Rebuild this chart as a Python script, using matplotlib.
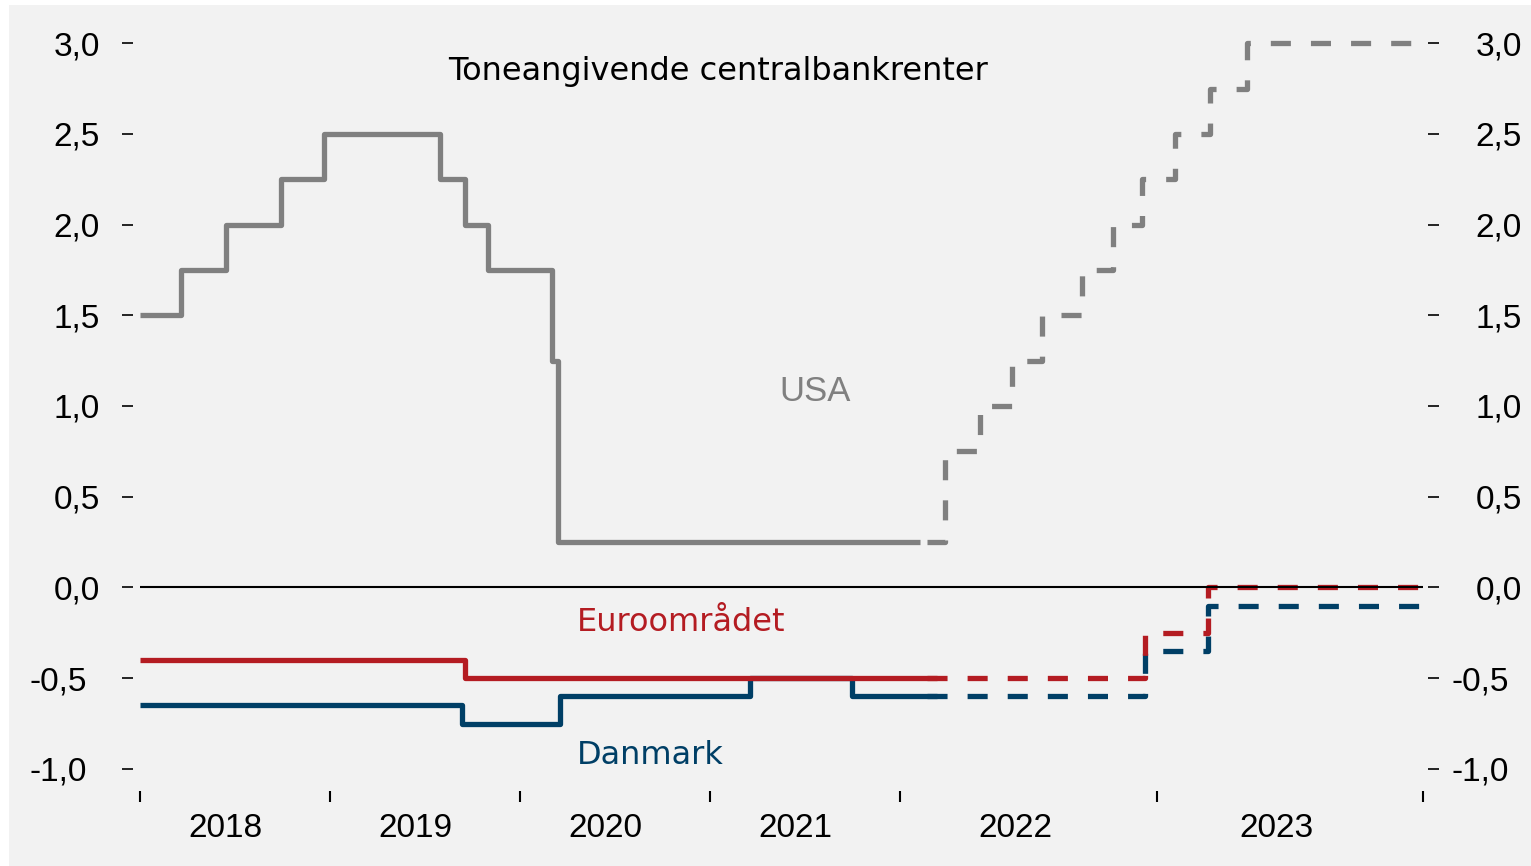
import numpy as np
import matplotlib
matplotlib.use("Agg")
import matplotlib.pyplot as plt
from matplotlib.patches import Rectangle
from matplotlib.transforms import Affine2D

# ---------------- data (decimal years / percent) ----------------
usa_hist_x = [2018.0, 2018.216, 2018.453, 2018.742, 2018.968, 2019.58, 2019.71,
              2019.83, 2020.169, 2020.20, 2022.078]
usa_hist_y = [1.50, 1.75, 2.00, 2.25, 2.50, 2.25, 2.00, 1.75, 1.25, 0.25, 0.25]

usa_fc_x = [2022.105, 2022.175, 2022.311, 2022.436, 2022.553, 2022.708, 2022.829,
            2022.942, 2023.068, 2023.199, 2023.338, 2024.0]
usa_fc_y = [0.25, 0.75, 1.00, 1.25, 1.50, 1.75, 2.00, 2.25, 2.50, 2.75, 3.00, 3.00]

euro_hist_x = [2018.0, 2019.71, 2022.144]
euro_hist_y = [-0.40, -0.50, -0.50]
euro_fc_x = [2022.105, 2022.953, 2023.19, 2024.0]
euro_fc_y = [-0.50, -0.25, 0.00, 0.00]

dk_hist_x = [2018.0, 2019.695, 2020.21, 2021.21, 2021.747, 2022.144]
dk_hist_y = [-0.65, -0.75, -0.60, -0.50, -0.60, -0.60]
dk_fc_x = [2022.105, 2022.953, 2023.19, 2024.0]
dk_fc_y = [-0.60, -0.35, -0.10, -0.10]

years = [2018, 2019, 2020, 2021, 2022, 2023]
year_edges = [2018, 2019, 2020, 2021, 2022, 2023, 2024]
edge_pos = [0, 190, 380, 570, 760, 1017, 1283]   # uneven year widths on the axis
yticks = [-1.0, -0.5, 0.0, 0.5, 1.0, 1.5, 2.0, 2.5, 3.0]

GRAY = "#808080"
RED = "#b41c22"
BLUE = "#003f66"
BG = "#f2f2f2"

W, H = 1531, 866
fig = plt.figure(figsize=(W / 100, H / 100), dpi=100, facecolor="white")
fig.patches.append(Rectangle((9 / W, 0), 1 - 9 / W, 1 - 5 / H, transform=fig.transFigure,
                             facecolor=BG, edgecolor="none", zorder=-10))

ax = fig.add_axes([140 / W, 1 - 787 / H, 1283 / W, 762 / H])
ax.set_facecolor("none")


def fwd(x):
    return np.interp(x, year_edges, edge_pos)


def inv(p):
    return np.interp(p, edge_pos, year_edges)


ax.set_xscale("function", functions=(fwd, inv))
ax.set_xlim(2018, 2024)
ax.set_ylim(-1.1, 3.1)

for s in ax.spines.values():
    s.set_visible(False)
ax.spines["left"].set_position(("outward", 5.0))
ax.spines["right"].set_position(("outward", 3.6))
ax.spines["bottom"].set_position(("outward", 2.9))

lw = 3.8
kw_solid = dict(where="post", lw=lw, solid_joinstyle="round", solid_capstyle="butt")
kw_dash = dict(where="post", lw=lw, linestyle=(0, (3.8, 3.8)), dash_capstyle="butt",
               dash_joinstyle="round")

ax.step(dk_hist_x, dk_hist_y, color=BLUE, zorder=2, **kw_solid)
ax.step(dk_fc_x, dk_fc_y, color=BLUE, zorder=2, **kw_dash)
ax.step(euro_hist_x, euro_hist_y, color=RED, zorder=3, **kw_solid)
ax.step(euro_fc_x, euro_fc_y, color=RED, zorder=3, **kw_dash)
ax.step(usa_hist_x, usa_hist_y, color=GRAY, zorder=3, **kw_solid)
ax.step(usa_fc_x, usa_fc_y, color=GRAY, zorder=3, **kw_dash)

ax.axhline(0, color="black", lw=1.5, zorder=5)

# y axis both sides
ax.tick_params(axis="y", which="major", direction="out", length=8, width=1.2,
               left=True, right=True, labelleft=True, labelright=True, pad=15.8,
               labelsize=24, colors="black")
ax.set_yticks(yticks)
ax.set_yticklabels([f"{v:.1f}".replace(".", ",") for v in yticks], fontfamily="Liberation Sans")

# x axis
ax.set_xticks(year_edges)
ax.set_xticklabels([])
ax.set_xticks([y + 0.45 for y in years], minor=True)
ax.set_xticklabels([str(y) for y in years], minor=True, fontfamily="Liberation Sans")
ax.tick_params(axis="x", which="major", direction="out", length=8, width=1.5,
               bottom=True, top=False)
ax.tick_params(axis="x", which="minor", length=0, pad=15.8, labelsize=24)

for v, t in zip(yticks, ax.yaxis.get_major_ticks()):
    shift = -13 if v < 0 else 0
    t.label1.set_transform(t.label1.get_transform() + Affine2D().translate(shift, 0))
    t.label2.set_horizontalalignment("right")
    t.label2.set_transform(t.label2.get_transform() + Affine2D().translate(61 + shift, 0))

ax.text(0.4505, 0.9395, "Toneangivende centralbankrenter", transform=ax.transAxes,
        ha="center", va="center", fontsize=23, family="DejaVu Sans", color="black")
ax.text(2021.553, 1.078, "USA", ha="center", va="center", fontsize=25,
        family="Liberation Sans", color=GRAY)
ax.text(2020.847, -0.196, "Euroområdet", ha="center", va="center", fontsize=23,
        family="DejaVu Sans", color=RED)
ax.text(2020.684, -0.925, "Danmark", ha="center", va="center", fontsize=23,
        family="DejaVu Sans", color=BLUE)

fig.savefig("out.png", dpi=100, facecolor=fig.get_facecolor())
